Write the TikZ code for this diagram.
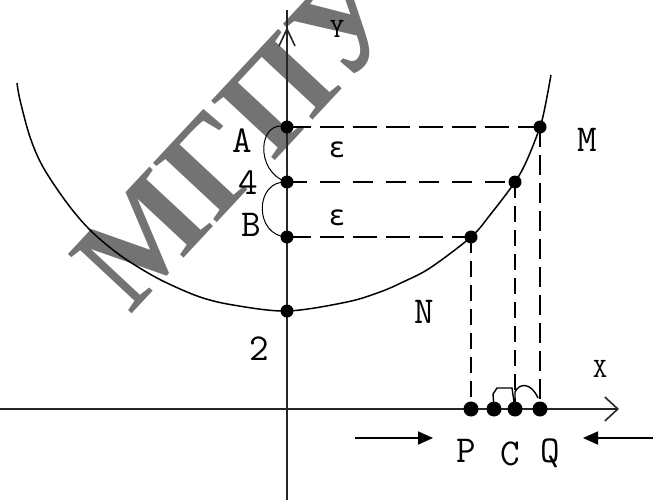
\documentclass[tikz,border=0pt]{standalone}
\usepackage{fontspec}
\newfontfamily\wmfont{Liberation Serif}
\newfontfamily\grfont{DejaVu Sans Mono}
\usetikzlibrary{arrows.meta}
\begin{document}
\begin{tikzpicture}[x=1pt,y=-1pt,
  lbl/.style={font=\fontsize{38}{38}\selectfont\ttfamily, inner sep=0pt},
  small/.style={font=\fontsize{28}{28}\selectfont\ttfamily, inner sep=0pt},
  eps/.style={font=\fontsize{28}{28}\selectfont\grfont, inner sep=0pt},
  wm/.style={font=\fontsize{133}{133}\selectfont\wmfont\bfseries, text=black!55, inner sep=0pt},
  axis/.style={line width=1.6pt, black!85},
  curve/.style={line width=1.5pt},
  hdash/.style={line width=2.6pt, dash pattern=on 24pt off 9pt},
  hdashdot/.style={line width=2pt, dash pattern=on 20pt off 13pt},
  vdash/.style={line width=2pt, dash pattern=on 16pt off 8pt},
  brace/.style={line width=1pt},
  dot/.style={circle, fill=black, inner sep=0pt, minimum size=13pt},
  bigdot/.style={circle, fill=black, inner sep=0pt, minimum size=15pt},
  push/.style={line width=1.8pt, -{Triangle[length=15pt,width=13pt]}}]
\useasboundingbox (0,0) rectangle (653,500);
% watermark
\node[wm, rotate=47, anchor=base west] (wm) at (130,316) {МГПУ};
% axes
\coordinate (ybot) at (287,500);
\coordinate (ytop) at (287,10);
\coordinate (xl) at (0,409);
\coordinate (xr) at (619,409);
\draw[axis] (ybot) -- (ytop);
\draw[axis] (279,46) -- (287,29) -- (295,46);
\draw[axis, -{Straight Barb[length=13pt,width=24pt,line width=1.6pt]}] (xl) -- (xr);
% curve
\draw[curve] plot[smooth, tension=0.55] coordinates {
 (17,83) (20,100) (30,137) (43,167) (67,203) (90,230) (117,253) (143,270)
 (167,283) (200,297) (233,305) (287,311) (347,302) (380,292) (403,282)
 (430,268) (471,237) (490,215) (515,182) (527,160) (540,127) (545,107) (551,75)};
% points
\node[dot] (A) at (287,127) {};
\node[dot] (F) at (287,182) {};
\node[dot] (B) at (287,237) {};
\node[dot] (V) at (287,311) {};
\node[dot] (M) at (540,127) {};
\node[dot] (K) at (515,182) {};
\node[dot] (N) at (471,237) {};
\node[bigdot] (P) at (471,409) {};
\node[bigdot] (C) at (494,409) {};
\node[bigdot] (D) at (515,409) {};
\node[bigdot] (Q) at (540,409) {};
% dashed lines
\draw[hdash] (A.center) -- (M.center);
\draw[hdashdot] (F.center) -- (K.center);
\draw[hdash] (B.center) -- (N.center);
\draw[vdash] (N.center) -- (P.center);
\draw[vdash] (K.center) -- (D.center);
\draw[vdash, dash pattern=on 20pt off 8pt] (M.center) -- (Q.center);
% braces on y axis
\draw[brace] (A.center) .. controls (258,118) and (254,172) .. (F.center);
\draw[brace] (F.center) .. controls (254,180) and (254,236) .. (B.center);
% brackets on x axis
\draw[brace, line width=1.4pt] (C.center) -- (493,394) -- (497,388) -- (512,388) -- (D.center);
\draw[brace, line width=1.4pt] (D.center) -- (515,392) .. controls (519,383) and (531,382) .. (538,398);
% push arrows
\coordinate (la) at (355,438);
\coordinate (lb) at (433,438);
\coordinate (ra) at (653,438);
\coordinate (rb) at (583,438);
\draw[push] (la) -- (lb);
\draw[push] (ra) -- (rb);
% labels
\node[lbl] (tA) at (242,141) {A};
\node[lbl] (t4) at (248,183) {4};
\node[lbl] (tB) at (251,225) {B};
\node[lbl] (t2) at (259,349) {2};
\node[lbl] (tN) at (424,312) {N};
\node[lbl] (tM) at (587,140) {M};
\node[lbl] (tP) at (466,451) {P};
\node[lbl] (tC) at (510,454) {C};
\node[lbl] (tQ) at (550,453) {Q};
\node[small] (tX) at (600,369) {X};
\node[small] (tY) at (337,29) {Y};
\node[eps] (e1) at (337,150) {ε};
\node[eps] (e2) at (337,218) {ε};
\end{tikzpicture}
\end{document}
